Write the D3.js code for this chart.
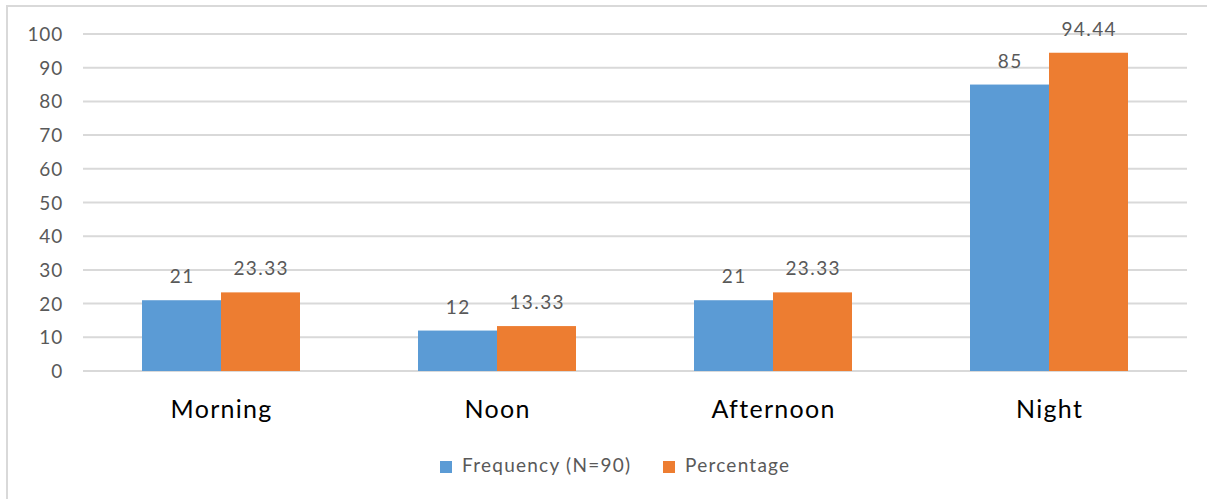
<!DOCTYPE html>
<html>
<head>
<meta charset="utf-8">
<script src="https://cdn.jsdelivr.net/npm/d3@7"></script>
<style>
  body { margin: 0; background: #fff; }
  svg { display: block; }
</style>
</head>
<body>
<div id="chart"></div>
<script>
const categories = ["Morning", "Noon", "Afternoon", "Night"];
const seriesNames = ["Frequency (N=90)", "Percentage"];
const frequency = [21, 12, 21, 85];
const percentage = [23.33, 13.33, 23.33, 94.44];
const frequencyLabels = ["21", "12", "21", "85"];
const percentageLabels = ["23.33", "13.33", "23.33", "94.44"];
const yTicks = [0, 10, 20, 30, 40, 50, 60, 70, 80, 90, 100];
const colors = ["#5B9BD5", "#ED7D31"];

const width = 1207, height = 499;
const plot = { left: 83, right: 1187, top: 34, bottom: 371 };

const svg = d3.select("#chart")
    .append("svg")
    .attr("width", width)
    .attr("height", height);

// outer frame
svg.append("rect")
    .attr("x", 7).attr("y", 6)
    .attr("width", width).attr("height", height)
    .attr("fill", "none")
    .attr("stroke", "#D9D9D9")
    .attr("stroke-width", 2);

const y = d3.scaleLinear().domain([0, 100]).range([plot.bottom, plot.top]);
const x0 = d3.scaleBand().domain(categories).range([plot.left, plot.right]).padding(0);
const x1 = d3.scaleBand().domain(seriesNames).range([0, x0.bandwidth()])
    .paddingInner(0).paddingOuter(0.747);

// gridlines
svg.append("g")
    .selectAll("line")
    .data(yTicks)
    .join("line")
    .attr("x1", plot.left).attr("x2", plot.right)
    .attr("y1", d => y(d)).attr("y2", d => y(d))
    .attr("stroke", "#D9D9D9")
    .attr("stroke-width", 2);

// y tick labels
svg.append("g")
    .selectAll("text")
    .data(yTicks)
    .join("text")
    .attr("x", 63)
    .attr("y", d => y(d) + 7)
    .attr("text-anchor", "end")
    .attr("font-family", "Lato")
    .attr("font-size", 19)
    .attr("letter-spacing", 0.8)
    .attr("fill", "#595959")
    .text(d => d);

const rows = categories.map((c, i) => ({
    cat: c,
    vals: [
        { s: seriesNames[0], v: frequency[i], label: frequencyLabels[i], color: colors[0] },
        { s: seriesNames[1], v: percentage[i], label: percentageLabels[i], color: colors[1] }
    ]
}));

const groups = svg.append("g")
    .selectAll("g")
    .data(rows)
    .join("g")
    .attr("transform", d => `translate(${x0(d.cat)},0)`);

groups.selectAll("rect")
    .data(d => d.vals)
    .join("rect")
    .attr("x", d => x1(d.s))
    .attr("y", d => y(d.v))
    .attr("width", x1.bandwidth())
    .attr("height", d => y(0) - y(d.v))
    .attr("fill", d => d.color);

groups.selectAll("text")
    .data(d => d.vals)
    .join("text")
    .attr("x", d => x1(d.s) + x1.bandwidth() / 2 + 0.7)
    .attr("y", d => y(d.v) - 17)
    .attr("text-anchor", "middle")
    .attr("font-family", "Lato")
    .attr("font-size", 19)
    .attr("letter-spacing", 1.4)
    .attr("fill", "#595959")
    .text(d => d.label);

// category labels
svg.append("g")
    .selectAll("text")
    .data(categories)
    .join("text")
    .attr("x", d => x0(d) + x0.bandwidth() / 2 + 0.6)
    .attr("y", 418)
    .attr("text-anchor", "middle")
    .attr("font-family", "Lato")
    .attr("font-size", 25)
    .attr("letter-spacing", 1.3)
    .attr("fill", "#000")
    .text(d => d);

// legend
const legendX = [440, 663];
const legend = svg.append("g")
    .selectAll("g")
    .data(seriesNames)
    .join("g")
    .attr("transform", (d, i) => `translate(${legendX[i]},461)`);

legend.append("rect")
    .attr("width", 12).attr("height", 12)
    .attr("fill", (d, i) => colors[i]);

legend.append("text")
    .attr("x", 22)
    .attr("y", 11)
    .attr("font-family", "Lato")
    .attr("font-size", 19)
    .attr("letter-spacing", 1.25)
    .attr("fill", "#595959")
    .text(d => d);
</script>
</body>
</html>
